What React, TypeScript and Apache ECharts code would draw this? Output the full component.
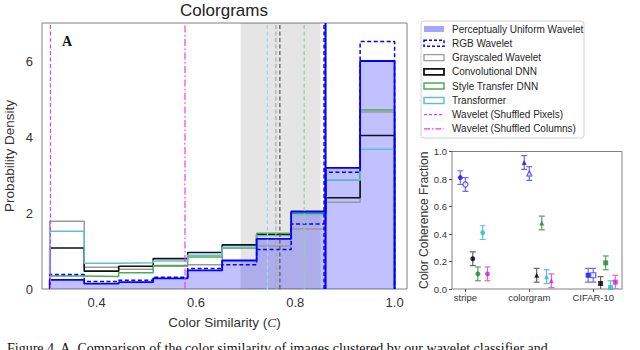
import React, { useEffect, useRef } from "react";
import * as echarts from "echarts";

// ---------- data: histogram (left panel) ----------
const binEdges = [0.3056, 0.375, 0.4444, 0.5139, 0.5833, 0.6528, 0.7222, 0.7917, 0.8611, 0.9306, 1.0];
const densityPU = [0.24, 0.14, 0.18, 0.28, 0.49, 0.75, 1.32, 2.04, 3.19, 6.0];
const densityRGB = [0.38, 0.2, 0.23, 0.31, 0.54, 0.64, 1.04, 1.71, 3.07, 6.51];
const densityGray = [1.78, 0.57, 0.52, 0.6, 0.64, 1.09, 1.13, 1.58, 2.28, 4.66];
const densityCNN = [1.08, 0.47, 0.6, 0.8, 0.96, 1.16, 1.43, 1.98, 2.4, 4.04];
const densityStyle = [0.34, 0.33, 0.43, 0.62, 0.84, 1.08, 1.47, 2.0, 2.86, 4.71];
const densityTransformer = [1.52, 0.68, 0.69, 0.74, 0.89, 1.1, 1.4, 1.96, 2.87, 3.68];

const meanShuffledPixels = 0.307;
const meanShuffledColumns = 0.578;
const meanTransformer = 0.744;
const meanGray = 0.761;
const meanCNN = 0.769;
const meanStyle = 0.818;
const meanRGB = 0.858;
const meanPU = 0.861;
const humanBand = [0.69, 0.851];

const mainXTicks = [0.4, 0.6, 0.8, 1.0];

const seriesNames = [
  "Perceptually Uniform Wavelet",
  "RGB Wavelet",
  "Grayscaled Wavelet",
  "Convolutional DNN",
  "Style Transfer DNN",
  "Transformer",
  "Wavelet (Shuffled Pixels)",
  "Wavelet (Shuffled Columns)",
];

// ---------- data: colour coherence (right panel) ----------
const categories = ["stripe", "colorgram", "CIFAR-10"];
const categoryPositions = [0, 1, 2];
const coherencePU = [0.81, 0.92, 0.1];
const coherenceRGB = [0.76, 0.84, 0.1];
const coherenceCNN = [0.22, 0.1, 0.04];
const coherenceStyle = [0.11, 0.48, 0.19];
const coherenceTransformer = [0.41, 0.09, 0.01];
const coherenceShuffled = [0.11, 0.06, 0.05];
const coherenceErr = [0.05, 0.05, 0.05];

const BLUE = "#0000ff";
const GRAY = "#9a9a9a";
const BLACK = "#111111";
const GREEN = "#4daa5c";
const CYAN = "#66bcd0";
const MAGENTA = "#f03cf0";
const FONT = "'Liberation Sans', Arial, sans-serif";

function stepPoints(edges: number[], vals: number[]) {
  const pts: number[][] = [[edges[0], 0]];
  vals.forEach((v, i) => {
    pts.push([edges[i], v]);
    pts.push([edges[i + 1], v]);
  });
  pts.push([edges[edges.length - 1], 0]);
  return pts;
}

function stepSeries(name: string, vals: number[], color: string, width: number, type: any, z: number) {
  return {
    name,
    type: "line",
    xAxisIndex: 0,
    yAxisIndex: 0,
    data: stepPoints(binEdges, vals),
    showSymbol: false,
    symbol: "none",
    silent: true,
    z,
    lineStyle: { color, width, type },
  };
}

function vLine(name: string, x: number, color: string, width: number, type: any, z: number) {
  return {
    name,
    type: "line",
    xAxisIndex: 0,
    yAxisIndex: 0,
    data: [
      [x, 0],
      [x, 7],
    ],
    symbol: "none",
    silent: true,
    z,
    lineStyle: { color, width, type },
  };
}

const offsets = [-0.08, 0, 0.115, 0.195, 0.27, 0.345];
const markerShapes = ["circle", "triangle", "rect"];

function coherenceSeries(name: string, vals: number[], idx: number, color: string, barColor: string, empty: boolean) {
  const pts = vals.map((v, i) => [categoryPositions[i] + offsets[idx], v, coherenceErr[i]]);
  return [
    {
      name: name + " err",
      type: "custom",
      xAxisIndex: 1,
      yAxisIndex: 1,
      clip: true,
      silent: true,
      data: pts,
      renderItem: (params: any, api: any) => {
        const x = api.value(0);
        const y = api.value(1);
        const e = api.value(2);
        const top = api.coord([x, y + e]);
        const bot = api.coord([x, y - e]);
        const hw = 3;
        const st = { stroke: barColor, lineWidth: 1.2 };
        return {
          type: "group",
          children: [
            { type: "line", shape: { x1: top[0], y1: top[1], x2: bot[0], y2: bot[1] }, style: st },
            { type: "line", shape: { x1: top[0] - hw, y1: top[1], x2: top[0] + hw, y2: top[1] }, style: st },
            { type: "line", shape: { x1: bot[0] - hw, y1: bot[1], x2: bot[0] + hw, y2: bot[1] }, style: st },
          ],
        };
      },
    },
    {
      name,
      type: "scatter",
      xAxisIndex: 1,
      yAxisIndex: 1,
      silent: true,
      symbolSize: 5,
      z: 5,
      data: pts.map((p, i) => ({
        value: [p[0], p[1]],
        symbol: markerShapes[i],
      })),
      itemStyle: empty
        ? { color: "#ffffff", borderColor: color, borderWidth: 1.2 }
        : { color },
    },
  ];
}

export default function App() {
  const ref = useRef<HTMLDivElement>(null);
  useEffect(() => {
    if (!ref.current) return;
    const chart = echarts.init(ref.current, null, { renderer: "svg" });

    const legendStyles: any[] = [
      { kind: "fill", fill: "rgba(0,0,255,0.35)" },
      { kind: "rect", stroke: BLUE, lw: 1.5, dash: [3, 2] },
      { kind: "rect", stroke: GRAY, lw: 1.3 },
      { kind: "rect", stroke: BLACK, lw: 1.8 },
      { kind: "rect", stroke: GREEN, lw: 1.5 },
      { kind: "rect", stroke: CYAN, lw: 1.5 },
      { kind: "line", stroke: MAGENTA, lw: 1.3, dash: [3, 2] },
      { kind: "line", stroke: MAGENTA, lw: 1.3, dash: [6, 2, 1.5, 2] },
    ];
    const legendGraphics: any[] = [
      {
        type: "rect",
        shape: { x: 421, y: 21, width: 163, height: 117, r: 3 },
        style: { fill: "#ffffff", stroke: "#d0d0d0", lineWidth: 1 },
        z: 10,
      },
    ];
    seriesNames.forEach((nm, i) => {
      const cy = 29 + i * 14.28;
      const s = legendStyles[i];
      if (s.kind === "fill") {
        legendGraphics.push({ type: "rect", shape: { x: 424, y: cy - 3, width: 20, height: 6 }, style: { fill: s.fill }, z: 11 });
      } else if (s.kind === "rect") {
        legendGraphics.push({
          type: "rect",
          shape: { x: 424, y: cy - 3, width: 20, height: 6 },
          style: { fill: "none", stroke: s.stroke, lineWidth: s.lw, lineDash: s.dash || null },
          z: 11,
        });
      } else {
        legendGraphics.push({
          type: "line",
          shape: { x1: 424, y1: cy, x2: 444, y2: cy },
          style: { stroke: s.stroke, lineWidth: s.lw, lineDash: s.dash },
          z: 11,
        });
      }
      legendGraphics.push({
        type: "text",
        x: 452,
        y: cy,
        z: 11,
        style: { text: nm, fontSize: 10, fontFamily: FONT, fill: "#262626", verticalAlign: "middle", align: "left" },
      });
    });

    const option: any = {
      animation: false,
      backgroundColor: "#ffffff",
      grid: [
        { left: 42, top: 23, width: 365, height: 266, show: true, borderColor: "#808080", borderWidth: 1, backgroundColor: "transparent", containLabel: false, outerBoundsMode: "none" },
        { left: 452, top: 151.5, width: 170, height: 137.5, show: true, borderColor: "#808080", borderWidth: 1, backgroundColor: "transparent", containLabel: false, outerBoundsMode: "none" },
      ],
      xAxis: [
        {
          type: "value",
          gridIndex: 0,
          min: 0.29,
          max: 1.025,
          axisLine: { show: false, onZero: false },
          axisTick: { show: false, customValues: mainXTicks },
          splitLine: { show: false },
          axisLabel: {
            customValues: mainXTicks,
            formatter: (v: number) => v.toFixed(1),
            fontSize: 13,
            fontFamily: FONT,
            color: "#333",
            margin: 7,
          },
          name: "Color Similarity ({i|C})",
          nameLocation: "middle",
          nameGap: 26,
          nameMoveOverlap: false,
          nameTextStyle: {
            fontSize: 13.5,
            fontFamily: FONT,
            color: "#333",
            rich: { i: { fontSize: 13.5, fontStyle: "italic", fontFamily: "'Liberation Serif', serif", color: "#333" } },
          },
        },
        {
          type: "value",
          gridIndex: 1,
          min: -0.21,
          max: 2.45,
          axisLine: { show: false, onZero: false },
          axisTick: { show: true, customValues: categoryPositions, length: 3, lineStyle: { color: "#555" } },
          splitLine: { show: false },
          axisLabel: {
            customValues: categoryPositions,
            formatter: (v: number) => categories[Math.round(v)],
            fontSize: 9.5,
            fontFamily: FONT,
            color: "#333",
            margin: 3,
          },
        },
      ],
      yAxis: [
        {
          type: "value",
          gridIndex: 0,
          min: 0,
          max: 7,
          interval: 2,
          axisLine: { show: false, onZero: false },
          axisTick: { show: false },
          splitLine: { show: false },
          axisLabel: { fontSize: 13, fontFamily: FONT, color: "#333", margin: 9, showMaxLabel: false },
          name: "Probability Density",
          nameLocation: "middle",
          nameGap: 26,
          nameMoveOverlap: false,
          nameTextStyle: { fontSize: 13.5, fontFamily: FONT, color: "#333" },
        },
        {
          type: "value",
          gridIndex: 1,
          position: "left",
          min: 0,
          max: 1,
          interval: 0.2,
          axisLine: { show: false, onZero: false },
          axisTick: { show: true, length: 3, lineStyle: { color: "#555" } },
          splitLine: { show: false },
          axisLabel: {
            fontSize: 9.5,
            fontFamily: FONT,
            color: "#333",
            margin: 5,
            formatter: (v: number) => v.toFixed(1),
          },
          name: "Color Coherence Fraction",
          nameLocation: "middle",
          nameGap: 22,
          nameMoveOverlap: false,
          nameTextStyle: { fontSize: 12, fontFamily: FONT, color: "#333" },
        },
      ],
      graphic: [
        {
          type: "text",
          x: 224,
          y: 10,
          style: { text: "Colorgrams", fontSize: 17, fontFamily: FONT, fill: "#222", align: "center", verticalAlign: "middle" },
        },
        {
          type: "text",
          x: 67,
          y: 41,
          z: 20,
          style: { text: "A", fontSize: 14, fontWeight: "bold", fontFamily: "'Liberation Serif', serif", fill: "#111", align: "center", verticalAlign: "middle" },
        },
        {
          type: "text",
          x: 7,
          y: 341,
          style: {
            text: "Figure 4. A. Comparison of the color similarity of images clustered by our wavelet classifier and",
            fontSize: 14,
            fontFamily: "'Liberation Serif', serif",
            fill: "#111",
            align: "left",
            verticalAlign: "top",
          },
        },
        ...legendGraphics,
      ],
      series: [
        {
          name: seriesNames[0] + " fill",
          type: "line",
          xAxisIndex: 0,
          yAxisIndex: 0,
          data: stepPoints(binEdges, densityPU),
          symbol: "none",
          silent: true,
          z: 1,
          lineStyle: { width: 0 },
          areaStyle: { color: "rgba(0,0,255,0.35)", origin: 0 },
          markArea: {
            silent: true,
            itemStyle: { color: "rgba(0,0,0,0.1)" },
            data: [[{ xAxis: humanBand[0] }, { xAxis: humanBand[1] }]],
          },
        },
        stepSeries(seriesNames[2], densityGray, GRAY, 1.5, "solid", 2),
        stepSeries(seriesNames[3], densityCNN, BLACK, 1.6, "solid", 2),
        stepSeries(seriesNames[4], densityStyle, GREEN, 1.5, "solid", 2),
        stepSeries(seriesNames[5], densityTransformer, CYAN, 1.5, "solid", 2),
        stepSeries(seriesNames[0], densityPU, BLUE, 1.8, "solid", 3),
        stepSeries(seriesNames[1], densityRGB, BLUE, 1.5, [4, 2.5], 3),
        vLine(seriesNames[6], meanShuffledPixels, MAGENTA, 1.2, [4, 2.5], 4),
        vLine(seriesNames[7], meanShuffledColumns, MAGENTA, 1.2, [7, 2.5, 1.5, 2.5], 4),
        vLine("Transformer mean", meanTransformer, "#a6d6e6", 1.2, [4, 2.5], 4),
        vLine("Grayscaled mean", meanGray, "#a8a8a8", 1.2, [4, 2.5], 4),
        vLine("CNN mean", meanCNN, "#555555", 1.2, [4, 2.5], 4),
        vLine("Style mean", meanStyle, "#98cfa2", 1.2, [4, 2.5], 4),
        vLine("PU mean", meanPU, BLUE, 2, "solid", 4),
        vLine("RGB mean", meanRGB, BLUE, 1.5, [4, 2.5], 4),
        ...coherenceSeries(seriesNames[0], coherencePU, 0, "#1010ee", "#6a6aff", false),
        ...coherenceSeries(seriesNames[1], coherenceRGB, 1, "#3030ff", "#6a6aff", true),
        ...coherenceSeries(seriesNames[3], coherenceCNN, 2, "#000000", "#666666", false),
        ...coherenceSeries(seriesNames[4], coherenceStyle, 3, "#1a8a2a", "#5aa060", false),
        ...coherenceSeries(seriesNames[5], coherenceTransformer, 4, "#20c0c0", "#50c8c8", false),
        ...coherenceSeries("Wavelet (Shuffled)", coherenceShuffled, 5, "#c828c8", "#d868d8", false),
      ],
    };
    chart.setOption(option);
    return () => chart.dispose();
  }, []);
  return <div ref={ref} style={{ position: "absolute", left: 0, top: 0, width: 640, height: 350 }} />;
}
